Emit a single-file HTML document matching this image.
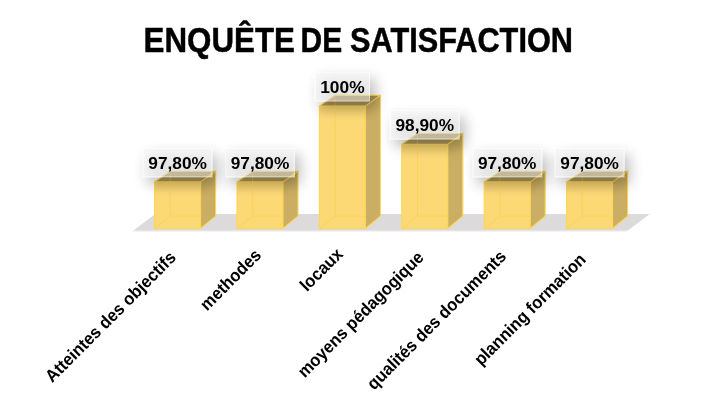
<!DOCTYPE html>
<html><head><meta charset="utf-8">
<style>
html,body{margin:0;padding:0;background:#fff;}
body{width:717px;height:410px;overflow:hidden;position:relative;}
svg{position:absolute;left:0;top:0;will-change:transform;}
text{font-family:"Liberation Sans",sans-serif;font-weight:bold;fill:#000;}
.title{font-size:35.6px;stroke:#000;stroke-width:0.5px;}
.dl{font-size:16.8px;}
.cl{font-size:17.5px;}
</style></head><body>
<svg width="717" height="410" viewBox="0 0 717 410">
<defs>
<linearGradient id="shd" x1="0" y1="0" x2="0" y2="1">
<stop offset="0" stop-color="#6b5520" stop-opacity="0.1"/><stop offset="1" stop-color="#6b5520" stop-opacity="0"/>
</linearGradient>
<filter id="sh" x="-50%" y="-80%" width="200%" height="260%">
<feGaussianBlur in="SourceAlpha" stdDeviation="7"/>
<feOffset dx="5" dy="7"/>
<feComponentTransfer><feFuncA type="linear" slope="0.6"/></feComponentTransfer>
<feMerge><feMergeNode/><feMergeNode in="SourceGraphic"/></feMerge>
</filter>
</defs>
<text x="143.6" y="51.5" class="title" textLength="151.3" lengthAdjust="spacingAndGlyphs">ENQUÊTE</text>
<text x="300.6" y="51.5" class="title" textLength="41.6" lengthAdjust="spacingAndGlyphs">DE</text>
<text x="350.0" y="51.5" class="title" textLength="223.0" lengthAdjust="spacingAndGlyphs">SATISFACTION</text>
<polygon points="132.0,231.6 626.2,231.6 649.6,214.0 155.4,214.0" fill="#e9e8e9"/>
<polygon points="134.0,230.2 628.2,230.2 649.6,214.0 155.4,214.0" fill="#dcdadb"/>
<polygon points="200.6,181.9 215.6,171.2 215.6,216.1 200.6,228.5" fill="#caae63"/>
<rect x="0" y="0" width="15.0" height="16" fill="url(#shd)" transform="matrix(1,-0.7133,0,1,200.6,181.9)"/>
<polygon points="154.6,181.9 170.2,171.2 215.6,171.2 200.6,181.9" fill="#ac955a"/>
<rect x="154.6" y="181.9" width="46.0" height="46.6" fill="#fdd976"/>
<rect x="154.6" y="181.9" width="46.0" height="12.0" fill="url(#shd)"/>
<path d="M170.2,181.9 V216.1 H200.6 M154.6,228.5 L170.2,216.1" stroke="#fcd25c" stroke-width="1" fill="none"/>
<path d="M170.2,171.2 V181.9" stroke="#e8c45a" stroke-width="1" fill="none" opacity="0.5"/>
<path d="M154.6,181.9 H200.6 V228.5 H154.6 Z M200.6,181.9 L215.6,171.2 V216.1 L200.6,228.5 M154.6,181.9 L170.2,171.2 H215.6" stroke="#ffd650" stroke-width="1.1" fill="none"/>
<polygon points="283.0,181.9 298.0,171.2 298.0,216.1 283.0,228.5" fill="#caae63"/>
<rect x="0" y="0" width="15.0" height="16" fill="url(#shd)" transform="matrix(1,-0.7133,0,1,283.0,181.9)"/>
<polygon points="237.0,181.9 252.6,171.2 298.0,171.2 283.0,181.9" fill="#ac955a"/>
<rect x="237.0" y="181.9" width="46.0" height="46.6" fill="#fdd976"/>
<rect x="237.0" y="181.9" width="46.0" height="12.0" fill="url(#shd)"/>
<path d="M252.6,181.9 V216.1 H283.0 M237.0,228.5 L252.6,216.1" stroke="#fcd25c" stroke-width="1" fill="none"/>
<path d="M252.6,171.2 V181.9" stroke="#e8c45a" stroke-width="1" fill="none" opacity="0.5"/>
<path d="M237.0,181.9 H283.0 V228.5 H237.0 Z M283.0,181.9 L298.0,171.2 V216.1 L283.0,228.5 M237.0,181.9 L252.6,171.2 H298.0" stroke="#ffd650" stroke-width="1.1" fill="none"/>
<polygon points="365.4,106.1 380.4,95.4 380.4,216.1 365.4,228.5" fill="#caae63"/>
<rect x="0" y="0" width="15.0" height="16" fill="url(#shd)" transform="matrix(1,-0.7133,0,1,365.4,106.1)"/>
<polygon points="319.4,106.1 335.0,95.4 380.4,95.4 365.4,106.1" fill="#ac955a"/>
<rect x="319.4" y="106.1" width="46.0" height="122.4" fill="#fdd976"/>
<rect x="319.4" y="106.1" width="46.0" height="12.0" fill="url(#shd)"/>
<path d="M335.0,106.1 V216.1 H365.4 M319.4,228.5 L335.0,216.1" stroke="#fcd25c" stroke-width="1" fill="none"/>
<path d="M335.0,95.4 V106.1" stroke="#e8c45a" stroke-width="1" fill="none" opacity="0.5"/>
<path d="M319.4,106.1 H365.4 V228.5 H319.4 Z M365.4,106.1 L380.4,95.4 V216.1 L365.4,228.5 M319.4,106.1 L335.0,95.4 H380.4" stroke="#ffd650" stroke-width="1.1" fill="none"/>
<polygon points="447.8,144.2 462.8,133.5 462.8,216.1 447.8,228.5" fill="#caae63"/>
<rect x="0" y="0" width="15.0" height="16" fill="url(#shd)" transform="matrix(1,-0.7133,0,1,447.8,144.2)"/>
<polygon points="401.8,144.2 417.4,133.5 462.8,133.5 447.8,144.2" fill="#ac955a"/>
<rect x="401.8" y="144.2" width="46.0" height="84.3" fill="#fdd976"/>
<rect x="401.8" y="144.2" width="46.0" height="12.0" fill="url(#shd)"/>
<path d="M417.4,144.2 V216.1 H447.8 M401.8,228.5 L417.4,216.1" stroke="#fcd25c" stroke-width="1" fill="none"/>
<path d="M417.4,133.5 V144.2" stroke="#e8c45a" stroke-width="1" fill="none" opacity="0.5"/>
<path d="M401.8,144.2 H447.8 V228.5 H401.8 Z M447.8,144.2 L462.8,133.5 V216.1 L447.8,228.5 M401.8,144.2 L417.4,133.5 H462.8" stroke="#ffd650" stroke-width="1.1" fill="none"/>
<polygon points="530.2,181.9 545.2,171.2 545.2,216.1 530.2,228.5" fill="#caae63"/>
<rect x="0" y="0" width="15.0" height="16" fill="url(#shd)" transform="matrix(1,-0.7133,0,1,530.2,181.9)"/>
<polygon points="484.2,181.9 499.8,171.2 545.2,171.2 530.2,181.9" fill="#ac955a"/>
<rect x="484.2" y="181.9" width="46.0" height="46.6" fill="#fdd976"/>
<rect x="484.2" y="181.9" width="46.0" height="12.0" fill="url(#shd)"/>
<path d="M499.8,181.9 V216.1 H530.2 M484.2,228.5 L499.8,216.1" stroke="#fcd25c" stroke-width="1" fill="none"/>
<path d="M499.8,171.2 V181.9" stroke="#e8c45a" stroke-width="1" fill="none" opacity="0.5"/>
<path d="M484.2,181.9 H530.2 V228.5 H484.2 Z M530.2,181.9 L545.2,171.2 V216.1 L530.2,228.5 M484.2,181.9 L499.8,171.2 H545.2" stroke="#ffd650" stroke-width="1.1" fill="none"/>
<polygon points="612.6,181.9 627.6,171.2 627.6,216.1 612.6,228.5" fill="#caae63"/>
<rect x="0" y="0" width="15.0" height="16" fill="url(#shd)" transform="matrix(1,-0.7133,0,1,612.6,181.9)"/>
<polygon points="566.6,181.9 582.2,171.2 627.6,171.2 612.6,181.9" fill="#ac955a"/>
<rect x="566.6" y="181.9" width="46.0" height="46.6" fill="#fdd976"/>
<rect x="566.6" y="181.9" width="46.0" height="12.0" fill="url(#shd)"/>
<path d="M582.2,181.9 V216.1 H612.6 M566.6,228.5 L582.2,216.1" stroke="#fcd25c" stroke-width="1" fill="none"/>
<path d="M582.2,171.2 V181.9" stroke="#e8c45a" stroke-width="1" fill="none" opacity="0.5"/>
<path d="M566.6,181.9 H612.6 V228.5 H566.6 Z M612.6,181.9 L627.6,171.2 V216.1 L612.6,228.5 M566.6,181.9 L582.2,171.2 H627.6" stroke="#ffd650" stroke-width="1.1" fill="none"/>
<g><rect x="143.2" y="148.5" width="68.7" height="28.2" fill="#eeeeee" fill-opacity="0.42" stroke="#ffffff" stroke-opacity="0.5" stroke-width="1" filter="url(#sh)"/><text x="177.6" y="168.9" text-anchor="middle" class="dl" textLength="58.6" lengthAdjust="spacingAndGlyphs">97,80%</text></g>
<g><rect x="225.7" y="148.5" width="68.7" height="28.2" fill="#eeeeee" fill-opacity="0.42" stroke="#ffffff" stroke-opacity="0.5" stroke-width="1" filter="url(#sh)"/><text x="260.0" y="168.9" text-anchor="middle" class="dl" textLength="58.6" lengthAdjust="spacingAndGlyphs">97,80%</text></g>
<g><rect x="315.3" y="72.7" width="54.2" height="28.2" fill="#eeeeee" fill-opacity="0.42" stroke="#ffffff" stroke-opacity="0.5" stroke-width="1" filter="url(#sh)"/><text x="342.4" y="93.1" text-anchor="middle" class="dl" textLength="44.4" lengthAdjust="spacingAndGlyphs">100%</text></g>
<g><rect x="390.4" y="110.8" width="68.7" height="28.2" fill="#eeeeee" fill-opacity="0.42" stroke="#ffffff" stroke-opacity="0.5" stroke-width="1" filter="url(#sh)"/><text x="424.8" y="131.2" text-anchor="middle" class="dl" textLength="58.6" lengthAdjust="spacingAndGlyphs">98,90%</text></g>
<g><rect x="472.9" y="148.5" width="68.7" height="28.2" fill="#eeeeee" fill-opacity="0.42" stroke="#ffffff" stroke-opacity="0.5" stroke-width="1" filter="url(#sh)"/><text x="507.2" y="168.9" text-anchor="middle" class="dl" textLength="58.6" lengthAdjust="spacingAndGlyphs">97,80%</text></g>
<g><rect x="555.2" y="148.5" width="68.7" height="28.2" fill="#eeeeee" fill-opacity="0.42" stroke="#ffffff" stroke-opacity="0.5" stroke-width="1" filter="url(#sh)"/><text x="589.6" y="168.9" text-anchor="middle" class="dl" textLength="58.6" lengthAdjust="spacingAndGlyphs">97,80%</text></g>
<text transform="translate(177.0,258.6) rotate(-45) scale(0.945,1)" text-anchor="end" class="cl">Atteintes des objectifs</text>
<text transform="translate(262.2,256.2) rotate(-45) scale(0.945,1)" text-anchor="end" class="cl">methodes</text>
<text transform="translate(343.9,255.2) rotate(-45) scale(0.945,1)" text-anchor="end" class="cl">locaux</text>
<text transform="translate(424.8,258.4) rotate(-45) scale(0.945,1)" text-anchor="end" class="cl">moyens pédagogique</text>
<text transform="translate(507.2,257.5) rotate(-45) scale(0.945,1)" text-anchor="end" class="cl">qualités des documents</text>
<text transform="translate(587.0,260.5) rotate(-45) scale(0.945,1)" text-anchor="end" class="cl">planning formation</text>
</svg>
</body></html>
